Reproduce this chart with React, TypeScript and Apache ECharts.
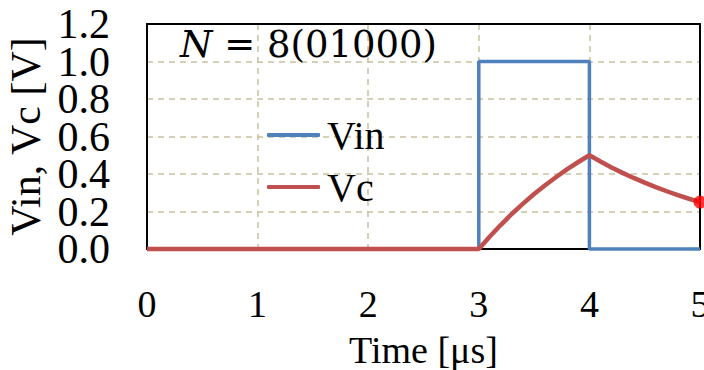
import React, { useEffect, useRef } from "react";
import * as echarts from "echarts";

// Time axis ticks [μs] and voltage ticks [V]
const xTicks = [0, 1, 2, 3, 4, 5];
const yTicks = [0, 0.2, 0.4, 0.6, 0.8, 1.0, 1.2];
const yTickLabels = ["0.0", "0.2", "0.4", "0.6", "0.8", "1.0", "1.2"];

// Input pulse: high between 3 μs and 4 μs
const vinTime = [0, 3, 3, 4, 4, 5];
const vinValue = [0, 0, 1, 1, 0, 0];

// Capacitor voltage: flat, charging during the pulse, then discharging
const vcTime = [
  0, 3, 3.1, 3.2, 3.3, 3.4, 3.5, 3.6, 3.7, 3.8, 3.9, 4.0,
  4.1, 4.2, 4.3, 4.4, 4.5, 4.6, 4.7, 4.8, 4.9, 5.0,
];
const vcValue = [
  0, 0, 0.067, 0.129, 0.188, 0.242, 0.293, 0.34, 0.384, 0.426, 0.464, 0.5,
  0.467, 0.435, 0.406, 0.379, 0.354, 0.33, 0.308, 0.287, 0.268, 0.25,
];

// Final sample highlighted with a dot
const endTime = [5];
const endValue = [0.25];

const FONT = "Liberation Serif";
const MATH_FONT = "DejaVu Serif";
const GRID_COLOR = "#C9C19E";

export default function App() {
  const ref = useRef<HTMLDivElement>(null);

  useEffect(() => {
    if (!ref.current) return;
    const chart = echarts.init(ref.current, null, { renderer: "svg" });
    const pair = (xs: number[], ys: number[]) => xs.map((x, i) => [x, ys[i]]);
    const frameAxis = {
      type: "value",
      axisLine: { show: true, onZero: false, lineStyle: { color: "#000000", width: 2 } },
      axisTick: { show: false },
      axisLabel: { show: false },
      splitLine: { show: false },
    };

    chart.setOption({
      animation: false,
      backgroundColor: "#ffffff",
      textStyle: { fontFamily: FONT },
      grid: {
        left: 147,
        right: 4,
        top: 24,
        bottom: 121,
        containLabel: false,
        outerBoundsMode: "none",
      },
      legend: {
        orient: "vertical",
        left: 267,
        top: 115,
        padding: 0,
        itemGap: 12,
        itemWidth: 53,
        itemHeight: 4,
        icon: "roundRect",
        data: ["Vin", "Vc"],
        textStyle: {
          fontFamily: FONT,
          fontSize: 40,
          lineHeight: 40,
          color: "#000000",
          padding: [0, 0, 0, 2],
        },
      },
      xAxis: [
        {
          type: "value",
          min: xTicks[0],
          max: xTicks[xTicks.length - 1],
          interval: 1,
          name: "Time [μs]",
          nameLocation: "middle",
          nameGap: 82,
          nameTextStyle: { fontFamily: FONT, fontSize: 38, color: "#000000" },
          axisLine: { show: true, lineStyle: { color: "#000000", width: 2 } },
          axisTick: { show: false },
          axisLabel: {
            fontFamily: FONT,
            fontSize: 38,
            color: "#000000",
            margin: 36,
            formatter: (v: number) => String(v),
          },
          splitLine: {
            show: true,
            lineStyle: { color: GRID_COLOR, type: [6, 5], width: 1.5 },
          },
        },
        { ...frameAxis, position: "top", min: 0, max: 5 },
      ],
      yAxis: [
        {
          // value scale used by the series, with its dashed grid
          type: "value",
          min: yTicks[0],
          max: yTicks[yTicks.length - 1],
          interval: 0.2,
          name: "Vin, Vc [V]",
          nameLocation: "middle",
          nameRotate: 90,
          nameGap: 100,
          nameTextStyle: { fontFamily: FONT, fontSize: 42, color: "#000000" },
          axisLine: { show: true, lineStyle: { color: "#000000", width: 2 } },
          axisTick: { show: false },
          axisLabel: { show: false },
          splitLine: {
            show: true,
            lineStyle: { color: GRID_COLOR, type: [6, 5], width: 1.5 },
          },
        },
        { ...frameAxis, position: "right", min: 0, max: 1.2 },
        {
          // tick labels, every one of them shown
          type: "category",
          position: "left",
          data: yTickLabels,
          boundaryGap: false,
          axisLine: { show: false },
          axisTick: { show: false },
          splitLine: { show: false },
          axisLabel: {
            interval: 0,
            fontFamily: FONT,
            fontSize: 42,
            lineHeight: 32,
            color: "#000000",
            margin: 37,
          },
        },
      ],
      series: [
        {
          name: "Vin",
          type: "line",
          data: pair(vinTime, vinValue),
          showSymbol: false,
          symbol: "none",
          color: "#4F81BD",
          lineStyle: { color: "#4F81BD", width: 3.5 },
          clip: false,
          z: 3,
        },
        {
          name: "Vc",
          type: "line",
          data: pair(vcTime, vcValue),
          showSymbol: false,
          symbol: "none",
          color: "#C0504D",
          lineStyle: { color: "#C0504D", width: 4.5 },
          clip: false,
          z: 4,
        },
        {
          name: "end",
          type: "scatter",
          data: pair(endTime, endValue),
          symbolSize: 13,
          itemStyle: { color: "#FF0000" },
          clip: false,
          z: 5,
        },
      ],
      graphic: [
        {
          type: "text",
          left: 180,
          top: 26,
          z: 10,
          style: {
            text: "{i|N} = 8(01000)",
            fontFamily: MATH_FONT,
            fontSize: 37,
            fill: "#000000",
            rich: {
              i: { fontFamily: MATH_FONT, fontSize: 37, fontStyle: "italic", fill: "#000000" },
            },
          },
        },
      ],
    });

    return () => chart.dispose();
  }, []);

  return (
    <div
      ref={ref}
      style={{ position: "absolute", left: 0, top: 0, width: 704, height: 370 }}
    />
  );
}
